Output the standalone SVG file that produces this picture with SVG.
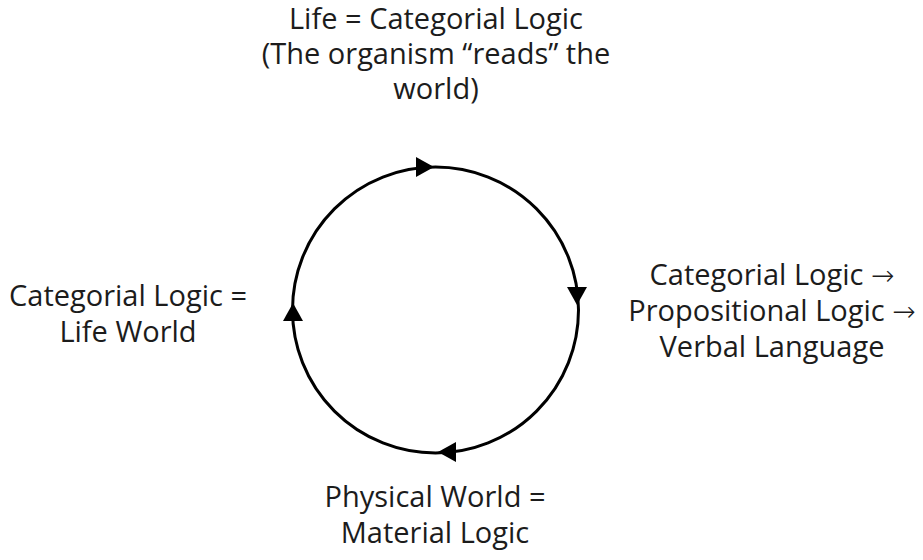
<svg xmlns="http://www.w3.org/2000/svg" width="923" height="560" viewBox="0 0 923 560">
<style>
text{font-family:"Open Sans","Noto Sans",sans-serif;font-size:29px;fill:#1c1c1c;text-anchor:middle}
.arr{font-family:"DejaVu Sans",sans-serif;font-size:28px;font-weight:300}
.ring{fill:none;stroke:#000;stroke-width:3}
.head{fill:#000}
</style>
<rect width="923" height="560" fill="#fff"/>
<g id="connectors">
<circle class="ring" cx="435.5" cy="310" r="143"/>
<polygon class="head" points="434,167 416,157 416,177"/>
<polygon class="head" points="577,305 567,287 587,287"/>
<polygon class="head" points="438,452 456,442 456,462"/>
<polygon class="head" points="293,303 283,321 303,321"/>
</g>
<g id="top">
<text x="436" y="29">Life = Categorial Logic</text>
<text x="436" y="64">(The organism “reads” the</text>
<text x="436" y="99">world)</text>
</g>
<g id="right">
<text x="772" y="285">Categorial Logic <tspan class="arr">→</tspan></text>
<text x="772" y="321">Propositional Logic <tspan class="arr">→</tspan></text>
<text x="772" y="357">Verbal Language</text>
</g>
<g id="bottom">
<text x="435" y="507">Physical World =</text>
<text x="435" y="543">Material Logic</text>
</g>
<g id="left">
<text x="128" y="306">Categorial Logic =</text>
<text x="128" y="342">Life World</text>
</g>
</svg>
